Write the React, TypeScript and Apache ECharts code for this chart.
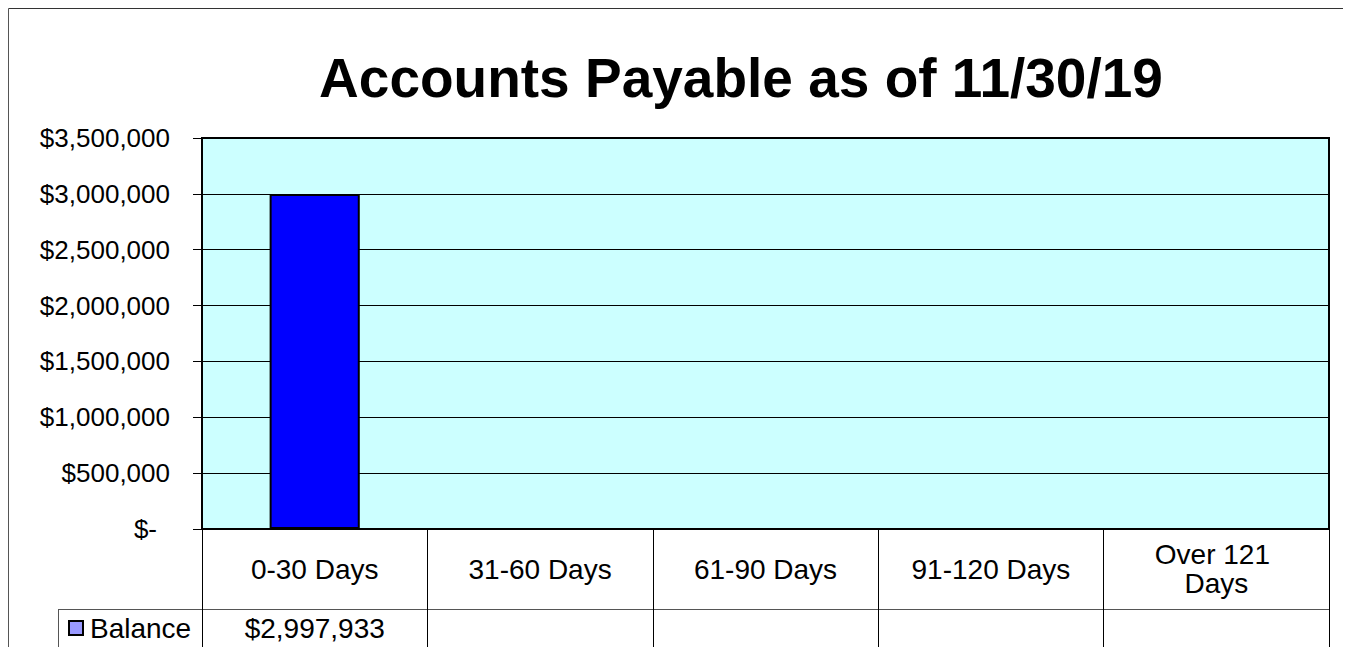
import React, { useEffect, useRef } from "react";
import * as echarts from "echarts";

const categories = ["0-30 Days", "31-60 Days", "61-90 Days", "91-120 Days", "Over 121 Days"];
const balance: (number | null)[] = [2997933, null, null, null, null];
const seriesName = "Balance";
const titleText = "Accounts Payable as of 11/30/19";
const yMin = 0;
const yMax = 3500000;
const yStep = 500000;

export default function App() {
  const ref = useRef<HTMLDivElement>(null);
  useEffect(() => {
    const chart = echarts.init(ref.current!, null, { renderer: "svg" });
    const font = "'Liberation Sans', Arial, sans-serif";
    const money = (v: number) => "$" + v.toLocaleString("en-US");
    chart.setOption({
      animation: false,
      backgroundColor: "#ffffff",
      textStyle: { fontFamily: font, color: "#000" },
      title: {
        text: titleText,
        left: 728,
        textAlign: "center",
        top: 37,
        textStyle: { fontFamily: font, fontSize: 55, fontWeight: "bold", color: "#000" },
      },
      legend: {
        data: [{ name: seriesName, itemStyle: { color: "#9999FF", borderColor: "#000", borderWidth: 2 } }],
        left: 60,
        top: 606,
        icon: "rect",
        itemWidth: 14,
        itemHeight: 14,
        itemGap: 0,
        padding: 0,
        textStyle: { fontFamily: font, fontSize: 28, color: "#000", padding: [0, 0, 0, 2] },
      },
      grid: {
        left: 194,
        top: 130,
        width: 1127,
        height: 391,
        show: true,
        backgroundColor: "#CCFFFF",
        borderColor: "#000",
        borderWidth: 2,
        containLabel: false,
      },
      xAxis: [
        {
          type: "category",
          data: categories,
          position: "bottom",
          axisLine: { show: false },
          axisTick: { show: true, length: 130, lineStyle: { color: "#000", width: 1 } },
          axisLabel: {
            interval: 0,
            margin: 40,
            verticalAlign: "middle",
            fontFamily: font,
            fontSize: 28,
            lineHeight: 29,
            color: "#000",
            width: 170,
            overflow: "break",
          },
        },
        {
          type: "category",
          data: categories,
          position: "bottom",
          offset: 60,
          axisLine: { show: false },
          axisTick: { show: false },
          axisLabel: {
            interval: 0,
            margin: 39,
            verticalAlign: "middle",
            fontFamily: font,
            fontSize: 28,
            color: "#000",
            formatter: (_v: string, i: number) => (balance[i] == null ? "" : money(balance[i] as number)),
          },
        },
      ],
      yAxis: {
        type: "value",
        min: yMin,
        max: yMax,
        interval: yStep,
        axisLine: { show: false },
        axisTick: { show: true, length: 9, lineStyle: { color: "#000", width: 1 } },
        splitLine: { show: true, lineStyle: { color: "#000", width: 1 } },
        axisLabel: {
          margin: 32,
          fontFamily: font,
          fontSize: 26,
          color: "#000",
          formatter: (v: number) => (v === 0 ? "{z|$-}" : money(v)),
          rich: { z: { fontFamily: font, fontSize: 26, color: "#000", padding: [0, 13, 0, 0] } },
        },
      },
      series: [
        {
          name: seriesName,
          type: "bar",
          xAxisIndex: 0,
          data: balance,
          barWidth: "40%",
          itemStyle: { color: "#0000FF", borderColor: "#000", borderWidth: 2 },
        },
      ],
      graphic: [
        {
          type: "line",
          shape: { x1: 0.5, y1: 0.5, x2: 1343, y2: 0.5 },
          style: { stroke: "#333", lineWidth: 1 },
          silent: true,
        },
        {
          type: "line",
          shape: { x1: 0.5, y1: 0.5, x2: 0.5, y2: 639 },
          style: { stroke: "#555", lineWidth: 1 },
          silent: true,
        },
        {
          type: "line",
          shape: { x1: 50, y1: 601.5, x2: 1321, y2: 601.5 },
          style: { stroke: "#555", lineWidth: 1 },
          silent: true,
        },
        {
          type: "line",
          shape: { x1: 50.5, y1: 601.5, x2: 50.5, y2: 700 },
          style: { stroke: "#555", lineWidth: 1 },
          silent: true,
        },
      ],
    });
    return () => chart.dispose();
  }, []);
  return <div ref={ref} style={{ width: 1343, height: 639 }} />;
}
